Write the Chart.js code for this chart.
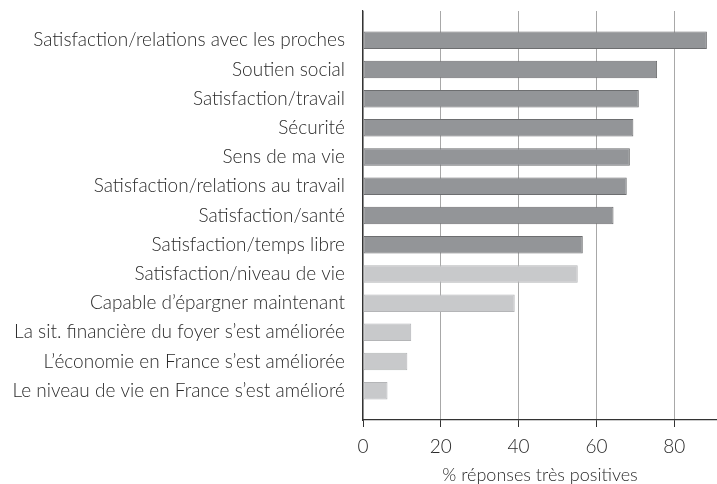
<!DOCTYPE html>
<html>
<head>
<meta charset="utf-8">
<script src="https://cdn.jsdelivr.net/npm/chart.js@4"></script>
<style>
  body { margin: 0; background: #fff; }
</style>
</head>
<body>
<canvas id="myChart" width="717" height="484"></canvas>
<script>
const categories = [
    "Satisfaction/relations avec les proches",
    "Soutien social",
    "Satisfaction/travail",
    "Sécurité",
    "Sens de ma vie",
    "Satisfaction/relations au travail",
    "Satisfaction/santé",
    "Satisfaction/temps libre",
    "Satisfaction/niveau de vie",
    "Capable d’épargner maintenant",
    "La sit. financière du foyer s’est améliorée",
    "L’économie en France s’est améliorée",
    "Le niveau de vie en France s’est amélioré"
]
const values = [88.4, 75.6, 70.9, 69.5, 68.6, 67.8, 64.4, 56.5, 55.2, 39.0, 12.4, 11.4, 6.3]
// 'dark' = first group of items, 'light' = second group
const groups = ['dark', 'dark', 'dark', 'dark', 'dark', 'dark', 'dark', 'dark',
                'light', 'light', 'light', 'light', 'light']
const xTicks = [0, 20, 40, 60, 80]
const xTitle = "% réponses très positives"

const fill = { dark: '#939598', light: '#c8c9cb' }
const edge = { dark: '#6d6e70', light: '#b4b5b7' }
const fontFamily = "Lato, 'Open Sans', sans-serif"
const textColor = '#2a2a2a'

const ctx = document.getElementById('myChart')

new Chart(ctx, {
    type: 'bar',
    data: {
        datasets: [{
            data: values.map((v, i) => ({ x: v, y: i })),
            backgroundColor: groups.map(g => fill[g]),
            borderColor: groups.map(g => edge[g]),
            borderWidth: 1,
            borderSkipped: false,
            barPercentage: 0.6,
            categoryPercentage: 1
        }]
    },
    options: {
        indexAxis: 'y',
        responsive: false,
        animation: false,
        layout: { padding: { top: 0, right: 0, left: 0, bottom: 0 } },
        plugins: {
            legend: { display: false },
            tooltip: { enabled: false }
        },
        scales: {
            x: {
                type: 'linear',
                min: 0,
                max: 91,
                afterBuildTicks: (scale) => { scale.ticks = xTicks.map(v => ({ value: v })) },
                grid: { color: '#a8a8a8', lineWidth: 1, tickLength: 7, tickColor: '#333', drawTicks: true },
                border: { display: true, color: '#333', width: 1.2 },
                ticks: { color: textColor, font: { family: fontFamily, size: 19, weight: 300, lineHeight: 1 }, padding: 10, maxRotation: 0 },
                title: {
                    display: true,
                    text: xTitle,
                    color: textColor,
                    font: { family: fontFamily, size: 18, weight: 300, lineHeight: 1 },
                    padding: { top: 0, bottom: 0 }
                }
            },
            y: {
                type: 'linear',
                offset: false,
                min: -1,
                max: 13,
                reverse: true,
                afterBuildTicks: (scale) => { scale.ticks = categories.map((c, i) => ({ value: i })) },
                afterFit: (scale) => { scale.width = 363; scale.paddingTop = 11; scale.paddingBottom = 0 },
                grid: { display: false },
                border: { display: true, color: '#333', width: 1.2 },
                ticks: {
                    color: textColor,
                    font: { family: fontFamily, size: 19, weight: 300 },
                    padding: 10,
                    callback: (v) => categories[v] ?? ''
                }
            }
        }
    }
})
</script>
</body>
</html>
